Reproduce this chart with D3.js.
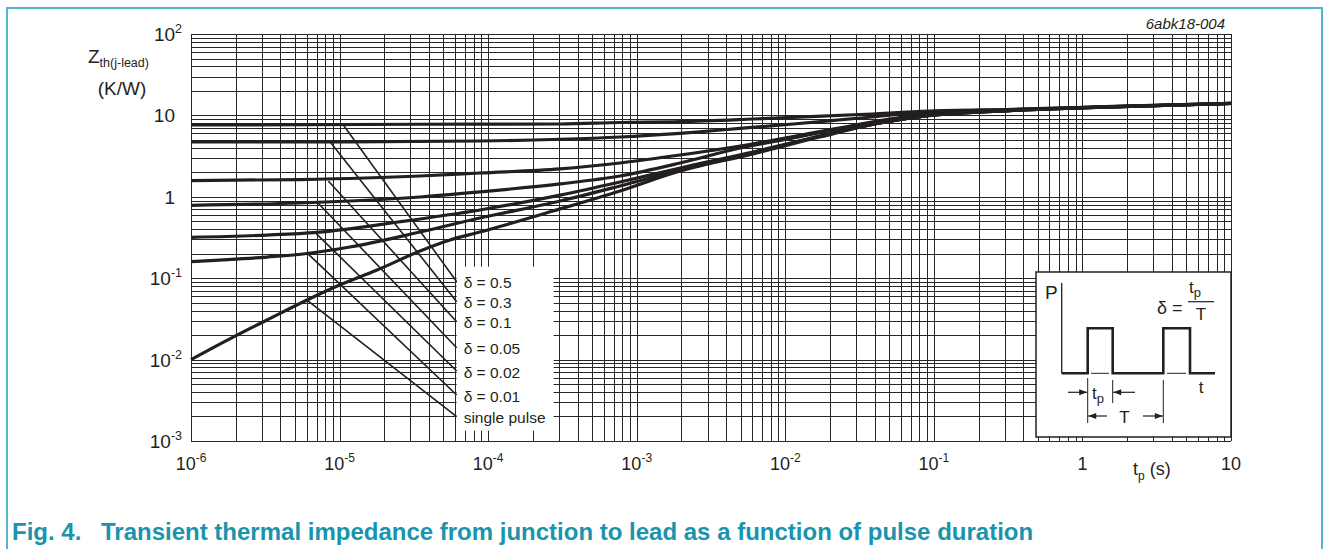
<!DOCTYPE html>
<html><head><meta charset="utf-8">
<script src="https://cdn.jsdelivr.net/npm/d3@7"></script>
<style>
body{margin:0;background:#fff;}
svg{display:block;font-family:"Liberation Sans",Arial,Helvetica,sans-serif;}
</style>
</head><body>
<svg id="c" width="1325" height="549"></svg>
<script>
// ---------------- DATA ----------------
const seriesNames = ["δ = 0.5","δ = 0.3","δ = 0.1","δ = 0.05","δ = 0.02","δ = 0.01","single pulse"];

const t_d05 = [1e-6, 3.48e-5, 3.05e-4, 7.72e-4, 1.96e-3, 6.06e-3, 0.0113, 0.0318, 0.0942, 0.341, 1.61, 10];
const z_d05 = [7.62, 7.78, 7.84, 8.18, 8.37, 9.03, 9.48, 10.26, 11.33, 11.9, 12.9, 14.1];

const t_d03 = [1e-6, 1.175e-5, 8.8e-5, 3.05e-4, 7.72e-4, 1.96e-3, 4.96e-3, 0.0113, 0.0318, 0.0942, 0.341, 1.61, 10];
const z_d03 = [4.71, 4.74, 4.85, 5.09, 5.43, 6.03, 6.91, 7.84, 9.29, 11.01, 11.75, 12.85, 14.05];

const t_d01 = [1e-6, 5.42e-6, 3.48e-5, 8.8e-5, 3.05e-4, 7.72e-4, 1.96e-3, 4.96e-3, 0.0113, 0.0273, 0.0942, 0.341, 1.61, 10];
const z_d01 = [1.58, 1.63, 1.80, 1.96, 2.20, 2.60, 3.26, 4.21, 5.51, 7.41, 10.55, 11.65, 12.8, 14.05];

const t_d005 = [1e-6, 5.42e-6, 1.175e-5, 3.48e-5, 8.8e-5, 3.05e-4, 7.72e-4, 1.96e-3, 4.96e-3, 0.0113, 0.0273, 0.0942, 0.341, 1.61, 10];
const z_d005 = [0.786, 0.839, 0.888, 0.994, 1.15, 1.44, 1.80, 2.60, 3.98, 5.28, 7.20, 10.26, 11.55, 12.75, 14.0];

const t_d002 = [1e-6, 3.25e-6, 7.05e-6, 2.55e-5, 8.8e-5, 3.05e-4, 7.72e-4, 1.96e-3, 6.06e-3, 0.0171, 0.0434, 0.0942, 0.341, 1.61, 10];
const z_d002 = [0.318, 0.339, 0.366, 0.494, 0.689, 1.05, 1.52, 2.26, 3.55, 5.58, 8.07, 9.97, 11.5, 12.7, 14.0];

const t_d001 = [1e-6, 3.25e-6, 6.04e-6, 1.175e-5, 3.48e-5, 8.8e-5, 3.05e-4, 7.72e-4, 1.96e-3, 6.06e-3, 0.0171, 0.0434, 0.0942, 0.341, 1.61, 10];
const z_d001 = [0.160, 0.182, 0.201, 0.2417, 0.369, 0.549, 0.888, 1.36, 2.13, 3.45, 5.58, 8.07, 9.97, 11.5, 12.7, 14.0];

const t_single = [1e-6, 1.92e-6, 3.25e-6, 6.04e-6, 1e-5, 1.79e-5, 3.48e-5, 5.54e-5, 8.8e-5, 2.73e-4, 7.72e-4, 1.96e-3, 6.06e-3, 0.0171, 0.0434, 0.0942, 0.341, 1.61, 10];
const z_single = [0.01, 0.0189, 0.0307, 0.054, 0.0825, 0.126, 0.216, 0.295, 0.369, 0.669, 1.18, 2.07, 3.36, 5.43, 8.07, 9.97, 11.5, 12.7, 14.0];

// leader lines from curve to label
const leaderStartT = [1.06e-5, 8.62e-6, 8.4e-6, 7.19e-6, 6.94e-6, 6.16e-6, 6.01e-6];
const leaderStartZ = [7.62, 4.75, 1.56, 0.832, 0.356, 0.198, 0.054];
const leaderEndT = 6.14e-5;
const leaderEndZ = [0.0906, 0.0514, 0.0292, 0.0140, 0.00724, 0.00367, 0.00199];

// tick labels
const xTickExp = [-6, -5, -4, -3, -2, -1, 0, 1];
const yTickExp = [-3, -2, -1, 0, 1, 2];

const captionNum = "Fig. 4.";
const captionText = "Transient thermal impedance from junction to lead as a function of pulse duration";
const figCode = "6abk18-004";

// ---------------- DRAW ----------------
const svg = d3.select("#c");
const INK = "#231f20";
const x = d3.scaleLog().domain([1e-6, 10]).range([191, 1231]);
const y = d3.scaleLog().domain([1e-3, 100]).range([441, 34]);

// outer frame
svg.append("path").attr("d", "M7,560 V8 H1322 V560")
  .attr("fill", "none").attr("stroke", "#55b6cb").attr("stroke-width", 2);

// grid
const gridG = svg.append("g").attr("shape-rendering", "crispEdges")
  .attr("stroke", "#262626").attr("stroke-width", 1);
gridG.selectAll("line.vx").data(x.ticks()).join("line")
  .attr("x1", d => Math.round(x(d)) + 0.5).attr("x2", d => Math.round(x(d)) + 0.5)
  .attr("y1", y(100)).attr("y2", y(1e-3));
gridG.selectAll("line.hy").data(y.ticks()).join("line")
  .attr("y1", d => Math.round(y(d)) + 0.5).attr("y2", d => Math.round(y(d)) + 0.5)
  .attr("x1", x(1e-6)).attr("x2", x(10));

// white box behind labels
const lbX = x(leaderEndT);
const lbTop = y(leaderEndZ[0]) - 15, lbBot = y(leaderEndZ[6]) + 14;
svg.append("rect").attr("x", lbX).attr("y", lbTop).attr("width", 97).attr("height", lbBot - lbTop).attr("fill", "#fff");

// curves
const series = [
  [t_d05, z_d05], [t_d03, z_d03], [t_d01, z_d01], [t_d005, z_d005],
  [t_d002, z_d002], [t_d001, z_d001], [t_single, z_single]
];
const line = d3.line().x(d => x(d[0])).y(d => y(d[1])).curve(d3.curveMonotoneX);
svg.append("g").selectAll("path").data(series).join("path")
  .attr("d", s => line(s[0].map((t, i) => [t, s[1][i]])))
  .attr("fill", "none").attr("stroke", INK).attr("stroke-width", 3.2).attr("stroke-linejoin", "round");

// leader lines
svg.append("g").selectAll("line").data(leaderStartT).join("line")
  .attr("x1", (d, i) => x(d)).attr("y1", (d, i) => y(leaderStartZ[i]))
  .attr("x2", x(leaderEndT)).attr("y2", (d, i) => y(leaderEndZ[i]))
  .attr("stroke", INK).attr("stroke-width", 1.6);

// labels
svg.append("g").selectAll("text").data(seriesNames).join("text")
  .attr("x", x(leaderEndT) + 7).attr("y", (d, i) => y(leaderEndZ[i]) + 6.5)
  .attr("font-size", 15.5).attr("fill", INK).text(d => d);

// x tick labels
const xl = svg.append("g").attr("font-size", 18).attr("fill", INK);
xTickExp.forEach(e => {
  const t = xl.append("text").attr("x", x(Math.pow(10, e))).attr("y", 470).attr("text-anchor", "middle");
  if (e === 0) t.text("1");
  else if (e === 1) t.text("10");
  else { t.append("tspan").text("10"); t.append("tspan").attr("font-size", 12).attr("dy", -8).text(String(e)); }
});
// x axis title
const xt = svg.append("text").attr("x", 1133).attr("y", 475).attr("font-size", 18).attr("fill", INK);
xt.append("tspan").text("t");
xt.append("tspan").attr("font-size", 12).attr("dy", 5).text("p");
xt.append("tspan").attr("dy", -5).text(" (s)");

// y tick labels
const yl = svg.append("g").attr("font-size", 19).attr("fill", INK).attr("text-anchor", "end");
yTickExp.forEach(e => {
  const yy = y(Math.pow(10, e)) + 7;
  if (e === 0) yl.append("text").attr("x", 175).attr("y", yy).text("1");
  else if (e === 1) yl.append("text").attr("x", 175).attr("y", yy).text("10");
  else {
    const t = yl.append("text").attr("x", 182).attr("y", yy);
    t.append("tspan").text("10");
    t.append("tspan").attr("font-size", 12.5).attr("dy", -8).text(String(e));
  }
});
// y title
const yt = svg.append("text").attr("x", 88).attr("y", 63).attr("font-size", 19).attr("fill", INK);
yt.append("tspan").text("Z");
yt.append("tspan").attr("font-size", 12.5).attr("dy", 4).text("th(j-lead)");
svg.append("text").attr("x", 122).attr("y", 95).attr("text-anchor", "middle")
  .attr("font-size", 19).attr("fill", INK).text("(K/W)");

// figure code
svg.append("text").attr("x", 1225).attr("y", 29).attr("text-anchor", "end")
  .attr("font-size", 15).attr("font-style", "italic").attr("fill", INK).text(figCode);

// caption
const capG = svg.append("g").attr("font-size", 24).attr("font-weight", "bold").attr("fill", "#1a93ad");
capG.append("text").attr("x", 12).attr("y", 540).text(captionNum);
capG.append("text").attr("x", 101).attr("y", 540).text(captionText);

// ---------- inset pulse diagram ----------
const ix0 = 1036, iy0 = 272, iw = x(10) - ix0, ih = 165;
const ins = svg.append("g").attr("transform", `translate(${ix0},${iy0})`);
ins.append("rect").attr("x", 0).attr("y", 0).attr("width", iw).attr("height", ih)
  .attr("fill", "#fff").attr("stroke", INK).attr("stroke-width", 1.5);
ins.append("text").attr("x", 9).attr("y", 27).attr("font-size", 19).attr("fill", INK).text("P");
ins.append("line").attr("x1", 25.7).attr("x2", 25.7).attr("y1", 11).attr("y2", 101.3).attr("stroke", INK).attr("stroke-width", 1.3);
const wave = [[25.7,101.3],[51.7,101.3],[51.7,56.3],[76.7,56.3],[76.7,101.3],[127.3,101.3],[127.3,56.3],[154,56.3],[154,101.3],[179,101.3]];
ins.append("path").attr("d", d3.line()(wave)).attr("fill", "none").attr("stroke", INK).attr("stroke-width", 2.6);
[[55,73],[131,150]].forEach(s => ins.append("line").attr("x1", s[0]).attr("x2", s[1]).attr("y1", 101.3).attr("y2", 101.3).attr("stroke", INK).attr("stroke-width", 1));
// dimension lines
[[51.7,106,151],[76.7,108,131],[127.3,108,151]].forEach(s => ins.append("line").attr("x1", s[0]).attr("x2", s[0]).attr("y1", s[1]).attr("y2", s[2]).attr("stroke", INK).attr("stroke-width", 1));
function arrow(x1, x2, yy) {
  ins.append("line").attr("x1", x1).attr("x2", x2).attr("y1", yy).attr("y2", yy).attr("stroke", INK).attr("stroke-width", 1.2);
  const dir = Math.sign(x2 - x1);
  ins.append("path").attr("d", `M${x2},${yy} L${x2 - dir * 8},${yy - 3} L${x2 - dir * 8},${yy + 3} Z`).attr("fill", INK);
}
arrow(32, 51.2, 120.3);
arrow(99, 77.2, 120.3);
arrow(71, 52.2, 144);
arrow(107, 126.8, 144);
const tpT = ins.append("text").attr("x", 56).attr("y", 127).attr("font-size", 17).attr("fill", INK);
tpT.append("tspan").text("t"); tpT.append("tspan").attr("font-size", 13).attr("dy", 4).text("p");
ins.append("text").attr("x", 88.5).attr("y", 151).attr("text-anchor", "middle").attr("font-size", 17).attr("fill", INK).text("T");
ins.append("text").attr("x", 165).attr("y", 121).attr("text-anchor", "middle").attr("font-size", 17).attr("fill", INK).text("t");
ins.append("text").attr("x", 121).attr("y", 42).attr("font-size", 18).attr("fill", INK).text("δ =");
const num = ins.append("text").attr("x", 153).attr("y", 21).attr("font-size", 17).attr("fill", INK);
num.append("tspan").text("t"); num.append("tspan").attr("font-size", 13).attr("dy", 4).text("p");
ins.append("line").attr("x1", 152).attr("x2", 178).attr("y1", 29.7).attr("y2", 29.7).attr("stroke", INK).attr("stroke-width", 1.2);
ins.append("text").attr("x", 165).attr("y", 48).attr("text-anchor", "middle").attr("font-size", 17).attr("fill", INK).text("T");
</script>
</body></html>
